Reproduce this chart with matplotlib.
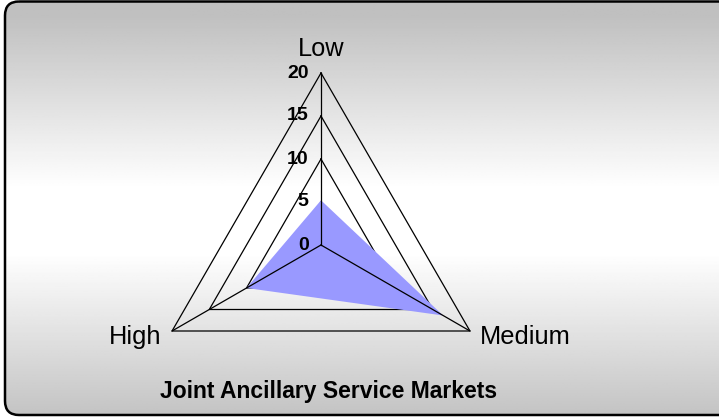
import numpy as np
import matplotlib.pyplot as plt
from matplotlib.patches import FancyBboxPatch

# data
categories = ['Low', 'Medium', 'High']
values = [5.2, 16.4, 10]
ring_levels = [5, 10, 15, 20]
tick_labels = ['0', '5', '10', '15', '20']
r_max = 20

fig = plt.figure(figsize=(7.19, 4.17), dpi=100)

# background: rounded box with vertical gray-white-gray gradient
bg = fig.add_axes([0, 0, 1, 1])
bg.set_xlim(0, 719)
bg.set_ylim(417, 0)
bg.axis('off')
box = FancyBboxPatch((5, 1.5), 740, 413.5, boxstyle='round,pad=0,rounding_size=14',
                     facecolor='none', edgecolor='black', linewidth=1.8, zorder=3)
bg.add_patch(box)
t = np.linspace(0, 1, 256)
shade = 1 - 0.25 * np.clip((np.abs(t - 0.53) - 0.08) / 0.42, 0, 1)
grad = np.repeat(shade[:, None], 2, axis=1)
im = bg.imshow(grad, cmap='gray', vmin=0, vmax=1, extent=(5, 745, 415, 1.5),
               aspect='auto', zorder=1)
im.set_clip_path(box)

# radar axes, 1 data unit = 8.6 px, centre at (321, 245) px
ax = fig.add_axes([0, 0, 1, 1])
ax.patch.set_alpha(0)
ax.axis('off')
ax.set_xlim(-321 / 8.6, (719 - 321) / 8.6)
ax.set_ylim(-172 / 8.6, 245 / 8.6)

angles = np.pi / 2 - np.arange(len(categories)) * 2 * np.pi / len(categories)
ca = np.append(angles, angles[0])

# gridlines sit under the filled area, spokes above it
for lev in ring_levels:
    ax.plot(lev * np.cos(ca), lev * np.sin(ca), color='black', lw=0.9, zorder=1.5)
for a in angles:
    ax.plot([0, r_max * np.cos(a)], [0, r_max * np.sin(a)], color='black', lw=0.9, zorder=3)

v = np.append(values, values[0])
ax.fill(v * np.cos(ca), v * np.sin(ca), color='#9999FF', lw=0, zorder=2)

# ring value labels
for i, lab in enumerate(tick_labels):
    ax.text(-1.45, i * 5, lab, ha='right', va='center', fontsize=14,
            fontweight='bold', family='Liberation Sans', zorder=4)

# category labels
ax.text(0.05, r_max + 2.0, categories[0], ha='center', va='baseline', fontsize=18.3,
        family='Liberation Sans')
ax.text(r_max * np.cos(angles[1]) + 1.2, r_max * np.sin(angles[1]) - 1.5, categories[1],
        ha='left', va='baseline', fontsize=18.3, family='Liberation Sans')
ax.text(r_max * np.cos(angles[2]) - 1.2, r_max * np.sin(angles[2]) - 1.5, categories[2],
        ha='right', va='baseline', fontsize=18.3, family='Liberation Sans')

fig.text(329 / 719, 1 - 398 / 417, 'Joint Ancillary Service Markets', ha='center',
         va='baseline', fontsize=16.5, fontweight='bold', family='Liberation Sans')

fig.savefig('out.png', dpi=100)
